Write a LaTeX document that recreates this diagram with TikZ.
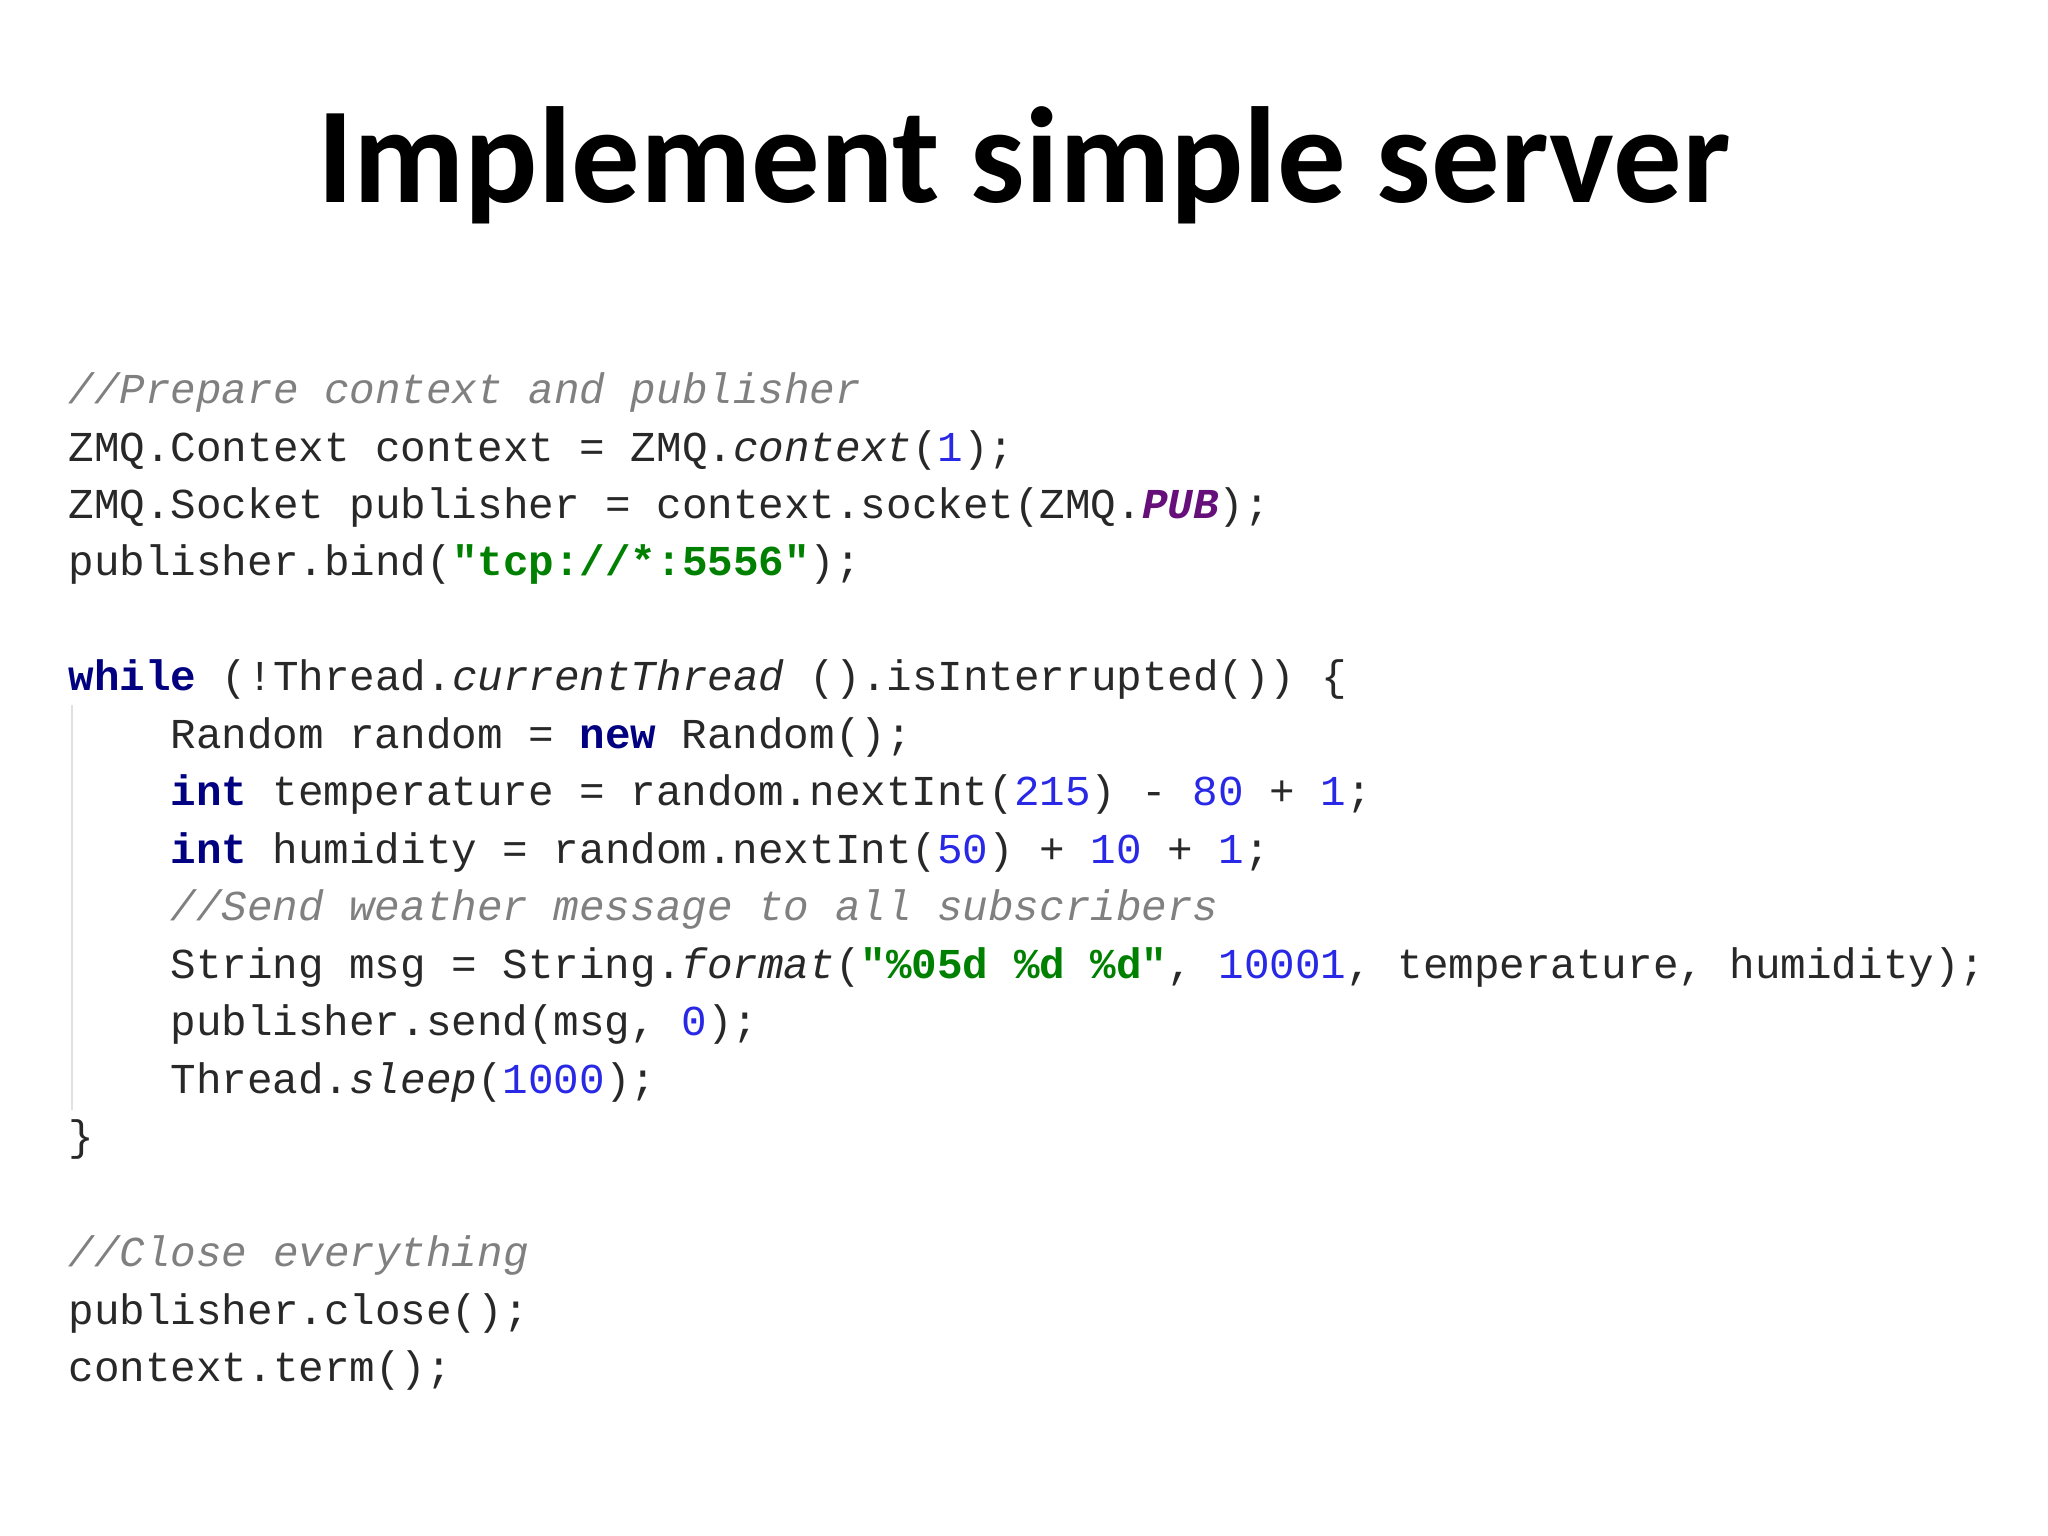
\documentclass[tikz,border=0pt]{standalone}
\usepackage{fontspec}
\setmainfont{Carlito}
\setmonofont{Liberation Mono}
\definecolor{ccomc}{RGB}{128,128,128}
\definecolor{cnumc}{RGB}{40,40,230}
\definecolor{cstrc}{RGB}{0,128,0}
\definecolor{ckwc}{RGB}{0,0,128}
\definecolor{cpurc}{RGB}{102,14,122}
\definecolor{ctxt}{RGB}{40,40,40}
\newcommand{\ccom}[1]{\textcolor{ccomc}{\itshape #1}}
\newcommand{\cnum}[1]{\textcolor{cnumc}{#1}}
\newcommand{\cstr}[1]{\textcolor{cstrc}{\bfseries #1}}
\newcommand{\ckw}[1]{\textcolor{ckwc}{\bfseries #1}}
\newcommand{\cpur}[1]{\textcolor{cpurc}{\bfseries\itshape #1}}
\begin{document}
\begin{tikzpicture}[x=0.01306cm,y=-0.01306cm,
  code/.style={anchor=base west,inner sep=0pt,font=\ttfamily\fontsize{12.12}{14}\selectfont,text=ctxt}]
\useasboundingbox (0,0) rectangle (1568,1176);
\node[font=\fontsize{38.9}{45}\selectfont\bfseries,anchor=base] (title) at (784,155) {Implement simple server};
\draw[black!12,line width=0.6pt] (55,540) -- (55,850);
\node[code] (l1) at (52,309) {\ccom{//Prepare context and publisher}};
\node[code] (l2) at (52,353) {ZMQ.Context context = ZMQ.\textit{context}(\cnum{1});};
\node[code] (l3) at (52,397) {ZMQ.Socket publisher = context.socket(ZMQ.\cpur{PUB});};
\node[code] (l4) at (52,441) {publisher.bind(\cstr{"tcp://*:5556"});};
\node[code] (l5) at (52,529) {\ckw{while} (!Thread.\textit{currentThread} ().isInterrupted()) \{};
\node[code] (l6) at (130,573) {Random random = \ckw{new} Random();};
\node[code] (l7) at (130,617) {\ckw{int} temperature = random.nextInt(\cnum{215}) - \cnum{80} + \cnum{1};};
\node[code] (l8) at (130,661) {\ckw{int} humidity = random.nextInt(\cnum{50}) + \cnum{10} + \cnum{1};};
\node[code] (l9) at (130,705) {\ccom{//Send weather message to all subscribers}};
\node[code] (l10) at (130,749) {String msg = String.\textit{format}(\cstr{"\%05d \%d \%d"}, \cnum{10001}, temperature, humidity);};
\node[code] (l11) at (130,793) {publisher.send(msg, \cnum{0});};
\node[code] (l12) at (130,837) {Thread.\textit{sleep}(\cnum{1000});};
\node[code] (l13) at (52,881) {\}};
\node[code] (l14) at (52,970) {\ccom{//Close everything}};
\node[code] (l15) at (52,1014) {publisher.close();};
\node[code] (l16) at (52,1058) {context.term();};
\end{tikzpicture}
\end{document}
